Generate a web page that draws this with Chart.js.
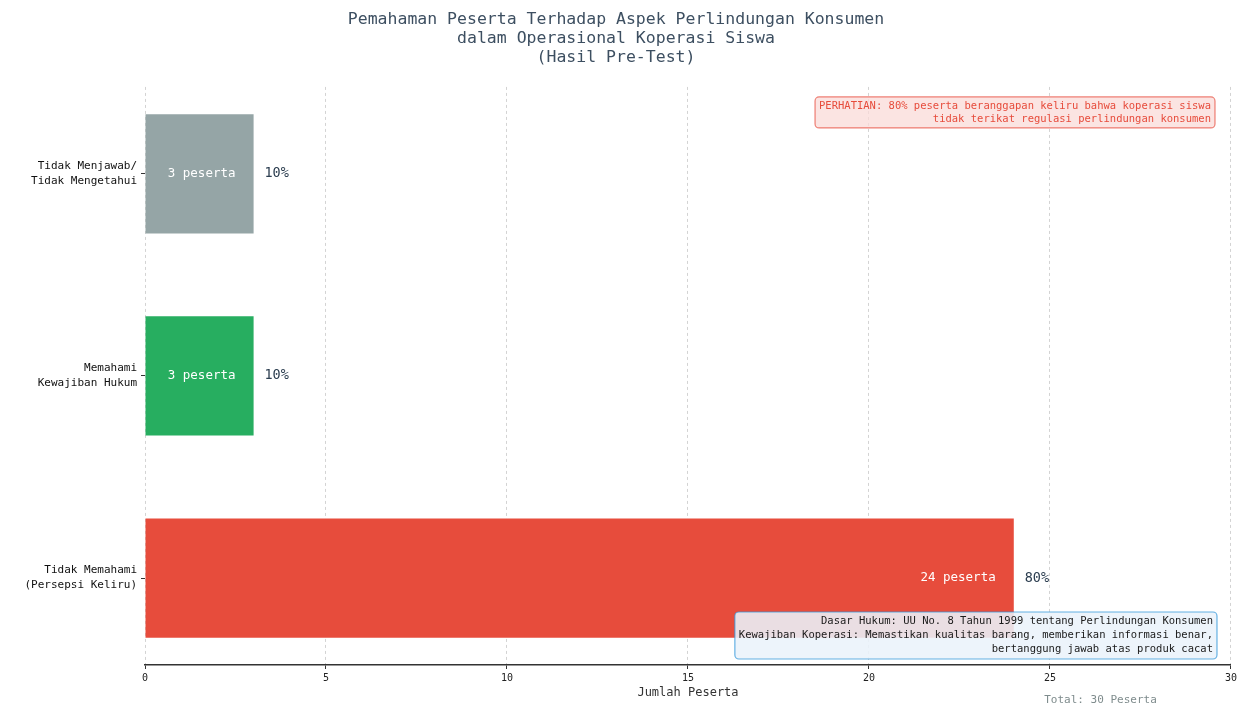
<!DOCTYPE html>
<html>
<head>
<meta charset="utf-8">
<script src="https://cdn.jsdelivr.net/npm/chart.js@4.4.1/dist/chart.umd.min.js"></script>
<style>
  html, body { margin: 0; padding: 0; background: #ffffff; }
  #chart { display: block; }
</style>
</head>
<body>
<canvas id="chart" width="1240" height="706"></canvas>
<script>
// data (bottom bar first, like barh)
var categories = [
	['Tidak Memahami', '(Persepsi Keliru)'],
	['Memahami', 'Kewajiban Hukum'],
	['Tidak Menjawab/', 'Tidak Mengetahui']
];
var counts = [24, 3, 3];
var percents = [80, 10, 10];
var totalPeserta = 30;
var barColors = ['#e74c3c', '#27ae60', '#95a5a6'];
var xTicks = [0, 5, 10, 15, 20, 25, 30];

var titleLines = [
	'Pemahaman Peserta Terhadap Aspek Perlindungan Konsumen',
	'dalam Operasional Koperasi Siswa',
	'(Hasil Pre-Test)'
];
var warningLines = [
	'PERHATIAN: ' + percents[0] + '% peserta beranggapan keliru bahwa koperasi siswa',
	'tidak terikat regulasi perlindungan konsumen'
];
var noteLines = [
	'Dasar Hukum: UU No. 8 Tahun 1999 tentang Perlindungan Konsumen',
	'Kewajiban Koperasi: Memastikan kualitas barang, memberikan informasi benar,',
	'bertanggung jawab atas produk cacat'
];

var mono = "'DejaVu Sans Mono', 'Liberation Mono', monospace";
Chart.defaults.font.family = mono;

function drawBox(ctx, lines, right, top, lineH, fill, stroke, textColor) {
	ctx.save();
	ctx.font = '10.5px ' + mono;
	var w = 0;
	lines.forEach(function(l){ w = Math.max(w, ctx.measureText(l).width); });
	var pad = 4;
	var bw = w + pad * 2;
	var bh = lines.length * lineH + 5;
	var left = right - bw;
	ctx.beginPath();
	ctx.roundRect(left, top, bw, bh, 4);
	ctx.fillStyle = fill;
	ctx.fill();
	ctx.lineWidth = 1.2;
	ctx.strokeStyle = stroke;
	ctx.stroke();
	ctx.fillStyle = textColor;
	ctx.textAlign = 'right';
	ctx.textBaseline = 'middle';
	for (var i = 0; i < lines.length; i++) {
		ctx.fillText(lines[i], right - pad, top + 2.5 + lineH * (i + 0.5));
	}
	ctx.restore();
	return bh;
}

var labelsPlugin = {
	id: 'barLabels',
	afterDatasetsDraw: function(chart){
		var ctx = chart.ctx;
		var xs = chart.scales.x;
		var meta = chart.getDatasetMeta(0);
		ctx.save();
		ctx.textBaseline = 'middle';
		meta.data.forEach(function(bar, i){
			ctx.font = '12.5px ' + mono;
			ctx.fillStyle = '#ffffff';
			ctx.textAlign = 'right';
			ctx.fillText(counts[i] + ' peserta', xs.getPixelForValue(counts[i] - 0.5), bar.y);
			ctx.font = '13.5px ' + mono;
			ctx.fillStyle = '#2c3e50';
			ctx.textAlign = 'left';
			ctx.fillText(percents[i] + '%', xs.getPixelForValue(counts[i] + 0.3), bar.y);
		});
		ctx.restore();
	},
	afterDraw: function(chart){
		var ctx = chart.ctx;
		var area = chart.chartArea;
		drawBox(ctx, warningLines, area.right - 16, area.top + 10, 13,
			'rgba(250, 219, 216, 0.75)', 'rgba(231, 76, 60, 0.7)', '#e74c3c');
		var noteH = noteLines.length * 14 + 5;
		drawBox(ctx, noteLines, area.right - 14, area.bottom - 6 - noteH, 14,
			'rgba(234, 242, 250, 0.88)', 'rgba(52, 152, 219, 0.75)', '#1a1a1a');
		// total text under the axis
		ctx.save();
		ctx.font = '11px ' + mono;
		ctx.fillStyle = '#7f8c8d';
		ctx.textAlign = 'left';
		ctx.textBaseline = 'middle';
		ctx.fillText('Total: ' + totalPeserta + ' Peserta', area.left + (area.right - area.left) * 0.828, 700);
		ctx.restore();
	}
};

new Chart(document.getElementById('chart'), {
	type: 'bar',
	data: {
		datasets: [{
			data: counts.map(function(c, i){ return {x: c, y: i}; }),
			backgroundColor: barColors,
			borderWidth: 0,
			barPercentage: 0.59,
			categoryPercentage: 1
		}]
	},
	options: {
		indexAxis: 'y',
		responsive: false,
		animation: false,
		devicePixelRatio: 1,
		layout: { padding: { left: 0, right: 8, top: 0, bottom: 0 } },
		plugins: {
			legend: { display: false },
			tooltip: { enabled: false },
			title: {
				display: true,
				text: titleLines,
				color: '#3d4f61',
				font: { size: 16.5, weight: 'normal', lineHeight: 1.15 },
				padding: { top: 10, bottom: 20 }
			}
		},
		scales: {
			x: {
				type: 'linear',
				min: xTicks[0],
				max: xTicks[xTicks.length - 1],
				afterBuildTicks: function(s){ s.ticks = xTicks.map(function(v){ return {value: v}; }); },
				ticks: { font: { size: 10 }, color: '#222', padding: 3 },
				grid: { color: '#d3d3d3', lineWidth: 1, tickColor: '#333', tickLength: 4 },
				border: { display: true, color: '#333', width: 1.5, dash: [3, 3] },
				title: {
					display: true,
					text: 'Jumlah Peserta',
					color: '#333',
					font: { size: 12 },
					padding: { top: 0, bottom: 6 }
				},
				afterFit: function(s){ s.height = 41; }
			},
			y: {
				type: 'linear',
				offset: false,
				min: -0.43,
				max: 2.43,
				afterBuildTicks: function(s){ s.ticks = categories.map(function(c, i){ return {value: i}; }); },
				ticks: {
					callback: function(v){ return categories[v]; },
					font: { size: 11, lineHeight: 1.36 },
					color: '#111',
					padding: 4
				},
				grid: { offset: false, drawOnChartArea: false, tickLength: 4, tickColor: '#333' },
				border: { display: false },
				afterFit: function(s){ s.width = 145; }
			}
		}
	},
	plugins: [labelsPlugin]
});
</script>
</body>
</html>
